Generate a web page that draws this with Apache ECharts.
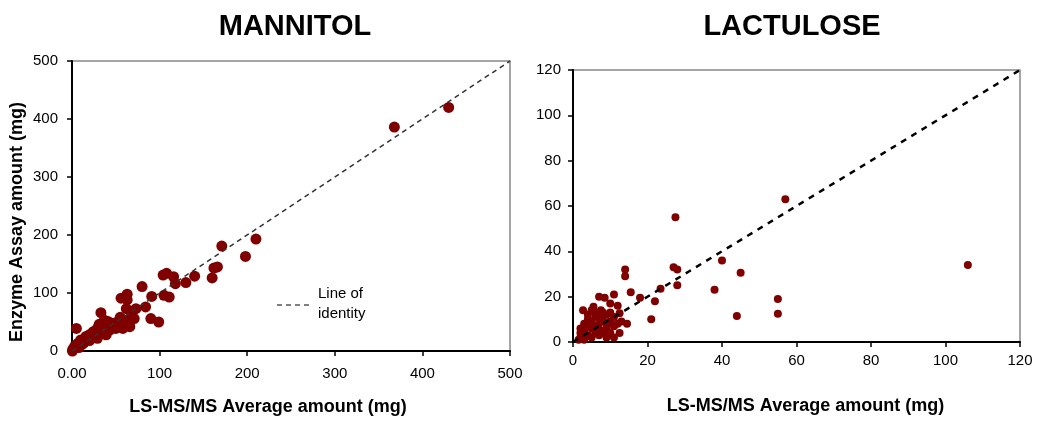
<!DOCTYPE html>
<html>
<head>
<meta charset="utf-8">
<script src="https://cdn.jsdelivr.net/npm/echarts@6/dist/echarts.min.js"></script>
<style>
html,body{margin:0;padding:0;background:#fff;}
#c{width:1050px;height:426px;}
</style>
</head>
<body>
<div id="c"></div>
<script>
// ---- Data ----
const mannitolLsms = [430,368,210,198,171,166,162,160,140,130,118,116,108,104,111,105,91,99,90,84,80,73,71,68,66,65,63,63,62,60,58,56,54,52,50,47,43,43,41,39,37,35,33,31,29,29,24,20,16,10,6.5,5,3,1,0.5,12,20,25,8,14,45,55,48,36,27,18];
const mannitolEnzyme = [420,386,193,163,181,145,143,126,129,118,116,128,134,131,93,96,94,50,56,76,111,73,56,62,42,45,98,88,73,53,39,91,45,50,39,48,36,45,51,28,53,33,66,46,39,22,33,28,25,19,13,39,8,3,0,12,18,26,6,15,42,58,40,44,30,20];
const lactuloseLsms = [106,57,40,45,38,44,55,55,27.5,27,28,28,23.5,14,14,15.5,11,8.5,7,18,22,21,10,12,2.7,5.5,7.5,12.5,11,12,14.5,12.5,8.5,2,3,4,5,6,4,5,6,7,8,9,10,3,2,4,5,7,8,9,10,11,6,7,3,2,4,5,8,9,10,11,13,6,7,3,1.5,9];
const lactuloseEnzyme = [34,63,36,30.5,23,11.5,19,12.5,55,33,32,25,23.5,32,29,22,21,19.5,20,19.5,18,10,17,16,14,15.5,14,12.7,11,8,8,4,4,4,5,7,9,11,12,6,4,8,10,6,9,3,2,3,2,3,5,12,4,7,13,5,8,6,10,14,13,2,13,2,9,7,11,1,1,8];
const mannitolTicks = [0,100,200,300,400,500];
const lactuloseTicks = [0,20,40,60,80,100,120];
const identityLeft = [0,500];
const identityRight = [0,120];

const zip = (a,b) => a.map((v,i)=>[v,b[i]]);
const font = 'Liberation Sans, Arial, sans-serif';

const chart = echarts.init(document.getElementById('c'), null, {renderer:'canvas'});

function axisBase(min,max,interval){
  return {
    type:'value', min:min, max:max, interval:interval,
    axisLine:{show:true, onZero:false, lineStyle:{color:'#000', width:2}},
    axisTick:{show:true, inside:false, length:5, lineStyle:{color:'#000', width:1.5}},
    splitLine:{show:false},
    axisLabel:{color:'#000', fontFamily:font, fontSize:14},
    nameTextStyle:{color:'#000', fontFamily:font, fontSize:18, fontWeight:'bold'}
  };
}

const option = {
  backgroundColor:'#fff',
  animation:false,
  title:[
    {text:'MANNITOL', left:290, top:7, textAlign:'center', textStyle:{fontFamily:font, fontSize:29, fontWeight:'bold', color:'#000'}},
    {text:'LACTULOSE', left:787, top:7, textAlign:'center', textStyle:{fontFamily:font, fontSize:29, fontWeight:'bold', color:'#000'}}
  ],
  grid:[
    {left:72, top:61, width:438, height:290, show:true, borderColor:'#888', borderWidth:1.5, backgroundColor:'#fff'},
    {left:573, top:70, width:447, height:272, show:true, borderColor:'#888', borderWidth:1.5, backgroundColor:'#fff'}
  ],
  xAxis:[
    Object.assign(axisBase(0,500,100), {gridIndex:0, name:'LS-MS/MS Average amount (mg)', nameLocation:'middle', nameGap:47,
      nameTextStyle:{color:'#000', fontFamily:font, fontSize:18, fontWeight:'bold', padding:[0,46,0,0]},
      axisLabel:{color:'#000', fontFamily:font, fontSize:15, margin:15, formatter:v => v===0 ? '0.00' : String(v)}}),
    Object.assign(axisBase(0,120,20), {gridIndex:1, name:'LS-MS/MS Average amount (mg)', nameLocation:'middle', nameGap:55,
      nameTextStyle:{color:'#000', fontFamily:font, fontSize:18, fontWeight:'bold', padding:[0,0,0,18]},
      axisLabel:{color:'#000', fontFamily:font, fontSize:15, margin:11}})
  ],
  yAxis:[
    Object.assign(axisBase(0,500,100), {gridIndex:0, name:'Enzyme Assay amount (mg)', nameLocation:'middle', nameGap:46,
      nameTextStyle:{color:'#000', fontFamily:font, fontSize:18, fontWeight:'bold', padding:[0,32,0,0]},
      axisLabel:{color:'#000', fontFamily:font, fontSize:15, margin:14}}),
    Object.assign(axisBase(0,120,20), {gridIndex:1, axisLabel:{color:'#000', fontFamily:font, fontSize:15, margin:12}})
  ],
  series:[
    {type:'line', xAxisIndex:0, yAxisIndex:0, data:zip(identityLeft, identityLeft), symbol:'none', silent:true,
      lineStyle:{color:'#333', width:1.5, type:[5,4]}, z:3},
    {type:'scatter', xAxisIndex:0, yAxisIndex:0, data:zip(mannitolLsms, mannitolEnzyme), symbol:'circle', symbolSize:11,
      itemStyle:{color:'#800000', opacity:1}, z:2},
    {type:'line', xAxisIndex:1, yAxisIndex:1, data:zip(identityRight, identityRight), symbol:'none', silent:true,
      lineStyle:{color:'#000', width:2.5, type:[6,6]}, z:3},
    {type:'scatter', xAxisIndex:1, yAxisIndex:1, data:zip(lactuloseLsms, lactuloseEnzyme), symbol:'circle', symbolSize:8,
      itemStyle:{color:'#800000', opacity:1}, z:2}
  ],
  graphic:[
    {type:'line', shape:{x1:277, y1:305, x2:313, y2:305}, style:{stroke:'#555', lineWidth:1.5, lineDash:[5,4]}},
    {type:'text', left:318, top:284, style:{text:'Line of\nidentity', font:'15px ' + font, fill:'#000', lineHeight:20}}
  ]
};
chart.setOption(option);
</script>
</body>
</html>
